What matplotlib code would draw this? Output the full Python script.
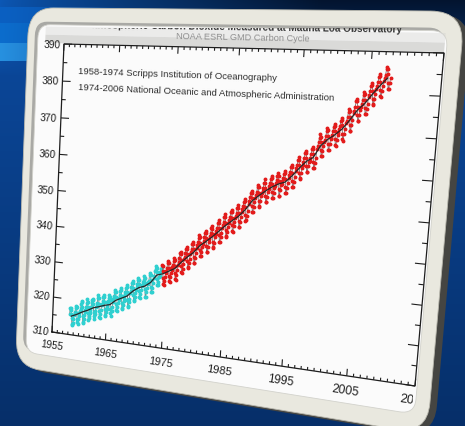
import numpy as np
import matplotlib
matplotlib.use("Agg")
import matplotlib.pyplot as plt
import matplotlib.transforms as mtransforms
from matplotlib.colors import to_rgb
from matplotlib.patches import FancyBboxPatch
from matplotlib.collections import LineCollection

plt.rcParams['font.family'] = ['Liberation Sans', 'DejaVu Sans']

# ---- data (ppm) -----------------------------------------------------------
# Scripps monthly values, March 1958 .. April 1974
scripps_start = 1958 + 2 / 12
scripps_ppm = [
    315.7, 317.5, 317.5, 317.1, 315.9, 314.9, 313.2, 312.7, 313.3, 314.7,
    315.6, 316.4, 316.7, 317.7, 318.3, 318.2, 316.5, 314.8, 313.8, 313.3, 314.8, 315.6,
    316.4, 317.0, 317.6, 319.0, 320.0, 319.6, 318.2, 315.9, 314.2, 313.8, 315.0, 316.2,
    316.9, 317.7, 318.5, 319.5, 320.6, 319.8, 318.6, 316.8, 314.8, 315.4, 316.1, 317.0,
    317.9, 318.6, 319.7, 320.6, 321.0, 320.6, 319.6, 317.4, 316.3, 315.4, 316.7, 317.7,
    318.7, 319.1, 319.9, 321.4, 322.3, 321.5, 319.7, 317.8, 316.2, 316.0, 317.1, 318.3,
    319.6, 320.0, 320.7, 321.8, 322.4, 321.9, 320.4, 318.6, 316.7, 317.0, 317.7, 318.7,
    319.4, 320.5, 320.9, 321.9, 322.6, 322.1, 321.2, 318.9, 317.6, 316.9, 318.4, 319.3,
    320.8, 321.6, 322.4, 323.7, 324.3, 323.8, 322.3, 320.4, 318.7, 318.4, 319.7, 320.7,
    321.7, 322.3, 323.0, 324.2, 324.9, 324.4, 322.9, 321.0, 319.4, 319.3, 320.4, 321.6,
    322.4, 323.4, 324.0, 325.1, 325.9, 325.4, 324.1, 322.0, 320.4, 320.0, 321.3, 322.3,
    324.0, 324.4, 325.6, 326.7, 327.3, 326.8, 325.5, 323.6, 322.1, 321.8, 322.9, 324.1,
    325.0, 325.9, 326.6, 327.8, 328.3, 327.8, 326.6, 324.7, 323.1, 323.0, 324.0, 325.1,
    326.2, 326.6, 327.4, 327.9, 329.0, 328.5, 327.2, 325.4, 323.4, 323.5, 324.7, 325.9,
    326.9, 327.6, 327.8, 329.5, 330.0, 329.6, 328.2, 326.4, 324.9, 325.0, 326.0, 327.4,
    328.7, 329.4, 330.6, 331.4, 332.1, 331.6, 330.5, 328.6, 327.1, 327.0, 328.0, 329.2,
    329.4, 330.6, 331.4, 332.1,
]

# NOAA monthly values, May 1974 .. December 2007
noaa_start = 1974 + 4 / 12
noaa_ppm = [
    332.6, 332.2, 331.1, 329.1, 327.4, 327.2, 328.4, 329.4,
    330.5, 331.2, 332.0, 333.2, 333.9, 333.3, 331.9, 329.9, 328.4, 328.3, 329.6, 330.8,
    331.6, 332.4, 333.0, 334.0, 334.8, 334.3, 332.8, 330.9, 329.2, 329.0, 330.4, 331.7,
    333.1, 333.9, 334.9, 336.4, 336.7, 336.0, 334.6, 332.8, 331.3, 331.0, 332.2, 333.5,
    334.8, 335.5, 336.4, 337.6, 338.2, 337.6, 336.3, 334.3, 332.7, 332.6, 333.9, 335.1,
    336.2, 336.9, 337.8, 338.9, 339.6, 339.1, 337.7, 335.6, 334.1, 334.0, 335.4, 336.8,
    338.0, 338.9, 339.7, 340.9, 341.5, 341.0, 339.6, 337.6, 336.0, 336.0, 337.2, 338.5,
    339.4, 340.2, 341.1, 342.3, 342.9, 342.3, 341.0, 339.0, 337.4, 337.3, 338.6, 339.9,
    340.9, 341.5, 342.4, 343.6, 344.2, 343.6, 342.2, 340.2, 338.7, 338.6, 340.0, 341.4,
    342.4, 343.1, 343.9, 345.3, 346.1, 345.3, 343.9, 342.0, 340.3, 340.2, 341.6, 342.8,
    344.1, 344.7, 345.5, 346.8, 347.6, 346.9, 345.4, 343.5, 342.0, 341.8, 343.2, 344.4,
    345.5, 346.2, 347.0, 348.3, 349.0, 348.3, 346.9, 344.9, 343.4, 343.3, 344.7, 345.9,
    346.8, 347.5, 348.3, 349.6, 350.3, 349.6, 348.2, 346.2, 344.7, 344.6, 345.9, 347.2,
    348.5, 349.3, 350.1, 351.2, 352.0, 351.4, 350.0, 348.0, 346.4, 346.6, 347.8, 349.1,
    350.9, 351.6, 352.5, 353.7, 354.3, 353.8, 352.4, 350.4, 348.9, 348.8, 350.1, 351.4,
    352.5, 353.2, 354.0, 355.2, 355.9, 355.3, 353.9, 351.9, 350.4, 350.3, 351.7, 353.0,
    353.8, 354.5, 355.3, 356.5, 357.4, 356.6, 355.2, 353.2, 351.7, 351.6, 352.9, 354.2,
    355.0, 355.7, 356.5, 357.7, 358.4, 357.8, 356.4, 354.4, 352.9, 352.8, 354.1, 355.4,
    355.9, 356.6, 357.4, 358.5, 359.2, 358.6, 357.2, 355.2, 353.5, 353.6, 355.0, 356.3,
    356.5, 357.2, 358.0, 359.2, 359.9, 359.3, 357.9, 355.9, 354.4, 354.3, 355.6, 356.9,
    358.2, 358.9, 359.7, 360.9, 361.6, 361.0, 359.6, 357.6, 356.1, 356.0, 357.3, 358.6,
    360.0, 360.7, 361.6, 362.8, 363.5, 362.8, 361.7, 359.7, 358.3, 358.2, 359.6, 360.8,
    361.8, 362.5, 363.4, 364.6, 365.3, 364.8, 363.5, 361.5, 360.1, 360.0, 361.4, 362.6,
    362.9, 363.6, 364.5, 365.7, 366.4, 365.9, 364.6, 362.6, 361.2, 361.1, 362.5, 363.7,
    365.9, 366.6, 367.5, 368.7, 369.6, 368.9, 367.6, 365.6, 364.2, 364.1, 365.5, 366.7,
    367.6, 368.3, 369.2, 370.4, 371.1, 370.6, 369.3, 367.3, 365.9, 365.8, 367.2, 368.4,
    368.8, 369.5, 370.4, 371.6, 372.3, 371.8, 370.5, 368.5, 367.1, 367.0, 368.4, 369.6,
    370.3, 371.0, 371.9, 373.1, 373.8, 373.3, 372.0, 370.0, 368.6, 368.3, 369.9, 371.1,
    372.5, 373.2, 374.1, 375.3, 376.0, 375.5, 374.2, 372.2, 370.8, 370.7, 372.1, 373.3,
    375.0, 375.7, 376.6, 378.0, 378.5, 378.0, 376.7, 374.7, 373.3, 373.2, 374.6, 375.8,
    376.7, 377.4, 378.3, 379.5, 380.2, 379.7, 378.4, 376.4, 375.0, 374.9, 376.3, 377.5,
    379.0, 379.7, 380.6, 381.8, 382.5, 382.0, 380.7, 378.7, 377.5, 377.2, 378.6, 379.8,
    381.1, 381.8, 382.7, 383.9, 384.6, 384.1, 382.8, 380.8, 379.4, 379.3, 380.7, 381.9,
    383.0, 383.7, 384.6, 385.8, 386.5, 386.0, 384.7, 382.7, 381.3, 381.2, 382.6, 383.8,
]

# smoothed trend (annual means), plotted mid-year
trend_years = list(range(1958, 2008))
trend_ppm = [
    315.3, 316.0, 316.9, 317.6, 318.5, 319.0, 319.6, 320.0, 321.4, 322.2,
    323.0, 324.6, 325.7, 326.3, 327.5, 329.7, 330.2, 331.1, 332.0, 333.8,
    335.4, 336.8, 338.8, 340.1, 341.5, 343.1, 344.7, 346.1, 347.4, 349.2,
    351.6, 353.1, 354.4, 355.6, 356.5, 357.1, 358.8, 360.8, 362.6, 363.7,
    366.7, 368.4, 369.6, 371.1, 373.3, 375.8, 377.5, 379.8, 381.9, 383.8,
]

year_range = (1955, 2015)
ppm_range = (310, 390)
x_labels = ['1955', '1965', '1975', '1985', '1995', '2005', '2015']
y_labels = ['310', '320', '330', '340', '350', '360', '370', '380', '390']
source_lines = ['1958-1974 Scripps Institution of Oceanography',
                '1974-2006 National Oceanic and Atmospheric Administration']
title = 'NOAA ESRL GMD Carbon Cycle'
header = 'Atmospheric Carbon Dioxide Measured at Mauna Loa Observatory'


# ---- perspective plane ------------------------------------------------------
class Perspective(mtransforms.Transform):
    input_dims = output_dims = 2
    is_separable = False
    has_inverse = True

    def __init__(self, m):
        super().__init__()
        self.m = m

    def transform_non_affine(self, values):
        v = np.asarray(values, float).reshape(-1, 2)
        p = np.c_[v, np.ones(len(v))] @ self.m.T
        return p[:, :2] / p[:, 2:]

    def inverted(self):
        return Perspective(np.linalg.inv(self.m))


def homography(src, dst):
    rows = []
    for (x, y), (u, v) in zip(src, dst):
        rows.append([x, y, 1, 0, 0, 0, -u * x, -u * y, -u])
        rows.append([0, 0, 0, x, y, 1, -v * x, -v * y, -v])
    h = np.linalg.svd(np.array(rows, float))[2][-1]
    return h.reshape(3, 3) / h[-1]


W, H = 465, 427
fig = plt.figure(figsize=(W / 100, H / 100), dpi=100)
ax = fig.add_axes([0, 0, 1, 1])
ax.set_xlim(0, W)
ax.set_ylim(H, 0)
ax.axis('off')

# where the corners of the plot box sit in the picture (pixels)
dx, dy = year_range[1] - year_range[0], ppm_range[1] - ppm_range[0]
box_src = [(0, dy), (dx, dy), (dx, 0), (0, 0)]
box_px = [(64, 45), (444, 54), (415, 387), (52, 333)]
plane = (mtransforms.Affine2D().translate(-year_range[0], -ppm_range[0])
         + Perspective(homography(box_src, box_px)) + ax.transData)
to_plane = plane.inverted()


def plane_angle(x, y):
    a, b = plane.transform([(x, y), (x + 1.0, y)])
    return np.degrees(np.arctan2(b[1] - a[1], b[0] - a[0]))


def plane_scale(x, y):
    a, b = plane.transform([(x, y), (x + 1.0, y)])
    return np.hypot(*(b - a))


def px_to_plane(px, py):
    return to_plane.transform(ax.transData.transform((px, py)))


def px_clip(x0, y0, x1, y1):
    # clip box given in picture pixels (y down)
    return mtransforms.Bbox.from_extents(x0, H - y1, x1, H - y0)


# ---- background -------------------------------------------------------------
yy, xx = np.mgrid[0:H, 0:W].astype(float)
t = np.clip((yy - 60) / (H - 60), 0, 1)[..., None]
bg = (1 - t) * to_rgb('#0b4799') + t * to_rgb('#062f69')
top = np.clip(1 - yy / 75, 0, 1)[..., None] ** 0.7
right = np.clip(xx / 320, 0, 1)[..., None] ** 0.8
top_col = (1 - right) * to_rgb('#0c58b6') + right * to_rgb('#03142e')
bg = bg * (1 - top) + top_col * top
for y0, y1, c in [(8, 24, '#0a60c2'), (24, 44, '#0b6dcd'), (44, 62, '#2791e0')]:
    m = (((yy >= y0) & (yy < y1)) * np.clip(1 - xx / 130, 0, 1))[..., None]
    bg = bg * (1 - m) + np.array(to_rgb(c)) * m
m = (((yy >= 60) & (yy < 80)) * np.clip((xx - 420) / 40, 0, 1))[..., None]
bg = bg * (1 - m) + np.array(to_rgb('#0d5cc0')) * m
ax.imshow(bg, extent=[0, W, H, 0], aspect='auto', zorder=0, interpolation='bilinear')

# ---- frame ------------------------------------------------------------------
asp = 1.7
outer = dict(xy=(1948.2, 298.5), width=2017.3 - 1948.2, height=399.6 - 298.5,
             boxstyle='round,pad=0,rounding_size=4.6', mutation_aspect=asp)
inner = dict(xy=(1950.1, 303.0), width=2015.3 - 1950.1, height=395.1 - 303.0,
             boxstyle='round,pad=0,rounding_size=2.2', mutation_aspect=asp)


def shift(px, py):
    return mtransforms.ScaledTranslation(px / 100, py / 100, fig.dpi_scale_trans)


ax.add_patch(FancyBboxPatch(**outer, transform=plane + shift(7, -3),
                            fc='#454542', ec='none', zorder=1))
ax.add_patch(FancyBboxPatch(**outer, transform=plane, fc='#e9e8df',
                            ec='#b9b8ae', lw=0.6, zorder=2))
ax.add_patch(FancyBboxPatch(**inner, transform=plane + shift(-3, 3),
                            fc='#a9a9a5', ec='none', zorder=3))
ax.add_patch(FancyBboxPatch(**inner, transform=plane, fc='#fbfbfb', ec='#d2d2cc',
                            lw=0.6, zorder=3))

# grey shading below the top edge of the panel
for b0, b1, a in [(390.2, 392.4, 0.75), (392.4, 394.6, 0.35)]:
    ax.add_patch(FancyBboxPatch((1951.5, b0), 2015.0 - 1951.5, b1 - b0,
                                boxstyle='square,pad=0', transform=plane,
                                fc='#cfcfcd', ec='none', alpha=a, zorder=3.1))

# header line of the original, mostly hidden under the frame
hx, hy = px_to_plane(245, 27)
head = ax.text(hx, hy, header, transform=plane, fontsize=7.2, fontweight='bold',
               color='#3a3a3a', ha='center', va='center', rotation=plane_angle(hx, hy),
               rotation_mode='anchor', zorder=3.2, clip_on=True)
head.set_clip_box(px_clip(0, 28.5, W, H))

tx, ty = px_to_plane(243, 38)
ax.text(tx, ty, title, transform=plane, fontsize=6.6, color='#8e8e8e', ha='center',
        va='center', rotation=plane_angle(tx, ty), rotation_mode='anchor', zorder=4)

# ---- plot box, ticks, labels ------------------------------------------------
x0, x1 = year_range
y0, y1 = ppm_range
ax.plot([x0, x1, x1, x0, x0], [y0, y0, y1, y1, y0], color='#1e1e1e', lw=0.9,
        transform=plane, zorder=6)

major_years = [int(s) for s in x_labels]
segs = []
for yr in range(x0, x1 + 1):
    ln = 1.8 if yr in major_years else 0.8
    segs.append([(yr, y0), (yr, y0 + ln)])
    segs.append([(yr, y1), (yr, y1 - ln)])
for v in range(y0, y1 + 1, 5):
    ln = 1.5 if v % 10 == 0 else 0.75
    segs.append([(x0, v), (x0 + ln, v)])
    segs.append([(x1, v), (x1 - ln, v)])
ax.add_collection(LineCollection(segs, colors='#1e1e1e', linewidths=0.8,
                                 transform=plane, zorder=6))

for lab in x_labels:
    yr = int(lab)
    fs = 7.4 * (plane_scale(yr, y0) / 5.4) ** 0.8
    txt = ax.text(yr, y0 - 3.6, lab, transform=plane, fontsize=fs, color='#1e1e1e',
                  ha='center', va='center', rotation=plane_angle(yr, y0),
                  rotation_mode='anchor', zorder=6, clip_on=True)
    txt.set_clip_box(px_clip(0, 0, 413, H))
for lab in y_labels:
    v = int(lab)
    ax.text(x0 - 0.7, v, lab, transform=plane, fontsize=7.3, color='#1e1e1e',
            ha='right', va='center', rotation=plane_angle(x0, v),
            rotation_mode='anchor', zorder=6)

for i, line in enumerate(source_lines):
    sx, sy = px_to_plane(78, 72 + 16 * i)
    ax.text(sx, sy, line, transform=plane, fontsize=6.8, color='#2e2e2e',
            ha='left', va='center', rotation=plane_angle(sx, sy),
            rotation_mode='anchor', zorder=6)

# ---- data -------------------------------------------------------------------
scripps_t = scripps_start + np.arange(len(scripps_ppm)) / 12
noaa_t = noaa_start + np.arange(len(noaa_ppm)) / 12
ax.plot(scripps_t, scripps_ppm, '-o', color='#7a8484', lw=0.6, ms=1.8,
        mfc='#2fd0d0', mec='#2fd0d0', transform=plane, zorder=7)
ax.plot(noaa_t, noaa_ppm, '-o', color='#7a7070', lw=0.6, ms=1.8,
        mfc='#e31b1b', mec='#e31b1b', transform=plane, zorder=7)
ax.plot(np.array(trend_years) + 0.5, trend_ppm, color='#262626', lw=0.9,
        transform=plane, zorder=8)

fig.savefig('out.png', dpi=100)
